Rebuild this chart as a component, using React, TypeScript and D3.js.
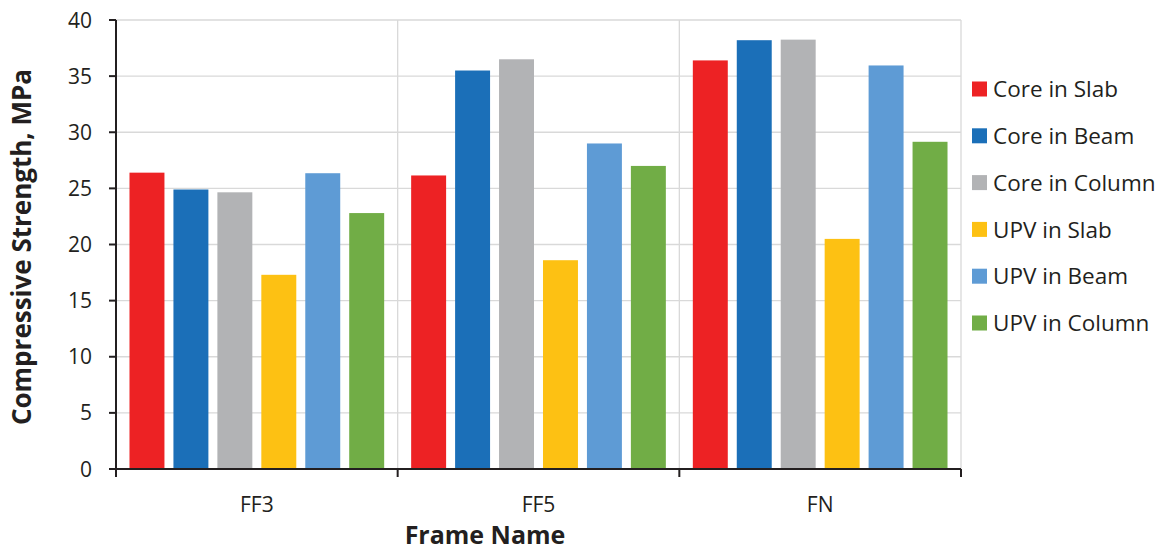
import React from "react";
import * as d3 from "d3";

const categories = ["FF3", "FF5", "FN"];
const seriesNames = ["Core in Slab", "Core in Beam", "Core in Column", "UPV in Slab", "UPV in Beam", "UPV in Column"];
const seriesColors = ["#ED2224", "#1B6FB8", "#B2B3B5", "#FDC113", "#5E9BD5", "#71AD46"];
const coreInSlab = [26.4, 26.15, 36.4];
const coreInBeam = [24.9, 35.5, 38.2];
const coreInColumn = [24.65, 36.5, 38.25];
const upvInSlab = [17.3, 18.6, 20.5];
const upvInBeam = [26.35, 29.0, 35.95];
const upvInColumn = [22.8, 27.0, 29.15];
const yTicks = [0, 5, 10, 15, 20, 25, 30, 35, 40];

const seriesValues = [coreInSlab, coreInBeam, coreInColumn, upvInSlab, upvInBeam, upvInColumn];

export default function App() {
  const W = 1163, H = 551;
  const left = 116, right = 961, top = 20, bottom = 469;
  const font = "'Open Sans', 'Noto Sans', sans-serif";
  const x0 = d3.scaleBand<string>().domain(categories).range([left, right]).paddingInner(0).paddingOuter(0);
  const x1 = d3.scaleBand<string>().domain(seriesNames).range([0, x0.bandwidth()]).paddingInner(0.2045).paddingOuter(0.307);
  const y = d3.scaleLinear().domain([0, 40]).range([bottom, top]);
  const boundaries = [left, ...categories.map((c) => (x0(c) as number) + x0.bandwidth())];

  return (
    <svg width={W} height={H} style={{ position: "absolute", left: 0, top: 0, background: "#fff" }}>
      {yTicks.filter((t) => t > 0).map((t) => (
        <line key={"h" + t} x1={left} x2={right} y1={y(t)} y2={y(t)} stroke="#D9D9D9" strokeWidth={1.3} />
      ))}
      {boundaries.slice(1).map((b, i) => (
        <line key={"v" + i} x1={b} x2={b} y1={top} y2={bottom} stroke="#D9D9D9" strokeWidth={1.3} />
      ))}
      {categories.map((c, ci) => (
        <g key={c}>
          {seriesNames.map((s, si) => (
            <rect
              key={s}
              x={(x0(c) as number) + (x1(s) as number)}
              y={y(seriesValues[si][ci])}
              width={x1.bandwidth()}
              height={bottom - y(seriesValues[si][ci])}
              fill={seriesColors[si]}
            />
          ))}
        </g>
      ))}
      <line x1={left} x2={left} y1={top} y2={bottom + 1} stroke="#231F20" strokeWidth={2} />
      <line x1={left - 7} x2={right} y1={bottom} y2={bottom} stroke="#231F20" strokeWidth={2} />
      {yTicks.map((t) => (
        <g key={"yt" + t}>
          <line x1={left - 7} x2={left} y1={y(t)} y2={y(t)} stroke="#231F20" strokeWidth={2} />
          <text x={92} y={y(t)} dy="0.36em" textAnchor="end" fontFamily={font} fontSize={21} fill="#231F20">
            {t}
          </text>
        </g>
      ))}
      {boundaries.map((b, i) => (
        <line key={"xt" + i} x1={b} x2={b} y1={bottom} y2={bottom + 8} stroke="#231F20" strokeWidth={2} />
      ))}
      {categories.map((c) => (
        <text key={"xl" + c} x={(x0(c) as number) + x0.bandwidth() / 2} y={504} dy="0.36em" textAnchor="middle" fontFamily={font} fontSize={21} fill="#231F20">
          {c}
        </text>
      ))}
      <text x={485} y={535} dy="0.36em" textAnchor="middle" fontFamily={font} fontSize={25} fontWeight="bold" fill="#231F20">
        Frame Name
      </text>
      <text transform={`translate(22, 247) rotate(-90)`} dy="0.36em" textAnchor="middle" fontFamily={font} fontSize={26} fontWeight="bold" fill="#231F20">
        Compressive Strength, MPa
      </text>
      {seriesNames.map((s, i) => (
        <g key={"lg" + s} transform={`translate(972, ${89 + i * 46.8})`}>
          <rect x={0} y={-7.5} width={15} height={15} fill={seriesColors[i]} />
          <text x={21} y={0} dy="0.36em" fontFamily={font} fontSize={22.5} fill="#231F20">
            {s}
          </text>
        </g>
      ))}
    </svg>
  );
}
